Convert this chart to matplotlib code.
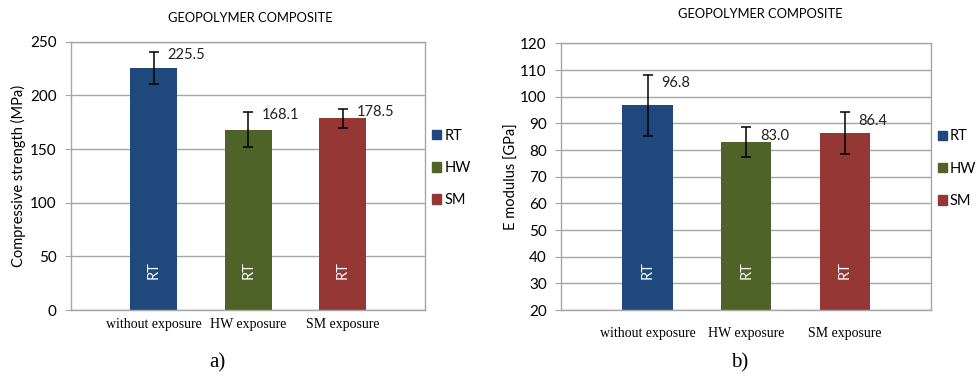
import numpy as np
import matplotlib.pyplot as plt
from matplotlib.patches import Patch

# ---- data ----
groups = ["without exposure", "HW exposure", "SM exposure"]
series = ["RT", "HW", "SM"]
colors = ["#1F497D", "#4F6228", "#953735"]

strength = [225.5, 168.1, 178.5]
strength_err = [15.0, 16.0, 9.0]

modulus = [96.8, 83.0, 86.4]
modulus_err = [11.5, 5.5, 7.8]

SANS = ["Lato", "DejaVu Sans"]
SERIF = ["Liberation Serif", "DejaVu Serif"]
GRID = "#A6A6A6"

fig = plt.figure(figsize=(9.76, 3.76), dpi=100)


def panel(rect, vals, errs, ylim, yticks, ylabel, bw, xpad, label_dy, ylabelpad):
    ax = fig.add_axes(rect)
    x = np.arange(len(vals))
    ax.bar(x, [v - ylim[0] for v in vals], bw, bottom=ylim[0], color=colors, zorder=2)
    ax.errorbar(x, vals, yerr=errs, fmt="none", ecolor="black", elinewidth=1.1,
                capsize=3.5, capthick=1.1, zorder=3)
    for xi, v, e in zip(x, vals, errs):
        ax.annotate(f"{v:.1f}", xy=(xi, v + e), xytext=(10, label_dy),
                    textcoords="offset points", ha="left", va="center",
                    fontsize=10.5, family=SANS, color="#222222")
        ax.text(xi, 0.15, "RT", transform=ax.get_xaxis_transform(), rotation=90,
                ha="center", va="center", color="white", fontsize=10.5, family=SANS)
    ax.set_xlim(-0.88, 2.87)
    ax.set_ylim(*ylim)
    ax.set_yticks(yticks)
    ax.set_yticklabels([str(t) for t in yticks], family=SANS, fontsize=11)
    ax.set_xticks(x)
    ax.set_xticklabels(groups, family=SERIF, fontsize=10)
    ax.tick_params(axis="x", length=0, pad=xpad)
    ax.tick_params(axis="y", length=4, color=GRID, pad=6)
    ax.grid(axis="y", color=GRID, linewidth=1.0, zorder=0)
    ax.set_axisbelow(True)
    for s in ax.spines.values():
        s.set_color(GRID)
        s.set_linewidth(1.0)
    ax.set_ylabel(ylabel, family=SANS, fontsize=10.5, labelpad=ylabelpad)
    handles = [Patch(color=c) for c in colors]
    ax_w = rect[2] * 976
    ax.legend(handles, series, loc="center left", bbox_to_anchor=(1.0 + 7 / ax_w, 0.53),
              frameon=False, handlelength=0.65, handleheight=0.65, handletextpad=0.2,
              labelspacing=1.25, borderpad=0, borderaxespad=0,
              prop={"family": SANS, "size": 10.5})
    return ax


panel([0.0724, 0.1755, 0.363, 0.7136], strength, strength_err, (0, 250),
      list(range(0, 251, 50)), "Compressive strength (MPa)", 0.5, 6, -2, 3)
panel([0.5745, 0.1755, 0.379, 0.709], modulus, modulus_err, (20, 120),
      list(range(20, 121, 10)), "E modulus [GPa]", 0.51, 12, -6, 1)

fig.text(250 / 976, 1 - 18 / 376, "GEOPOLYMER COMPOSITE", ha="center", va="center",
         fontsize=9.3, family=SANS)
fig.text(760 / 976, 1 - 14 / 376, "GEOPOLYMER COMPOSITE", ha="center", va="center",
         fontsize=9.3, family=SANS)
fig.text(217 / 976, 1 - 363 / 376, "a)", ha="center", va="center", fontsize=15, family=SERIF)
fig.text(740 / 976, 1 - 363 / 376, "b)", ha="center", va="center", fontsize=15, family=SERIF)

fig.savefig("out.png", dpi=100)
